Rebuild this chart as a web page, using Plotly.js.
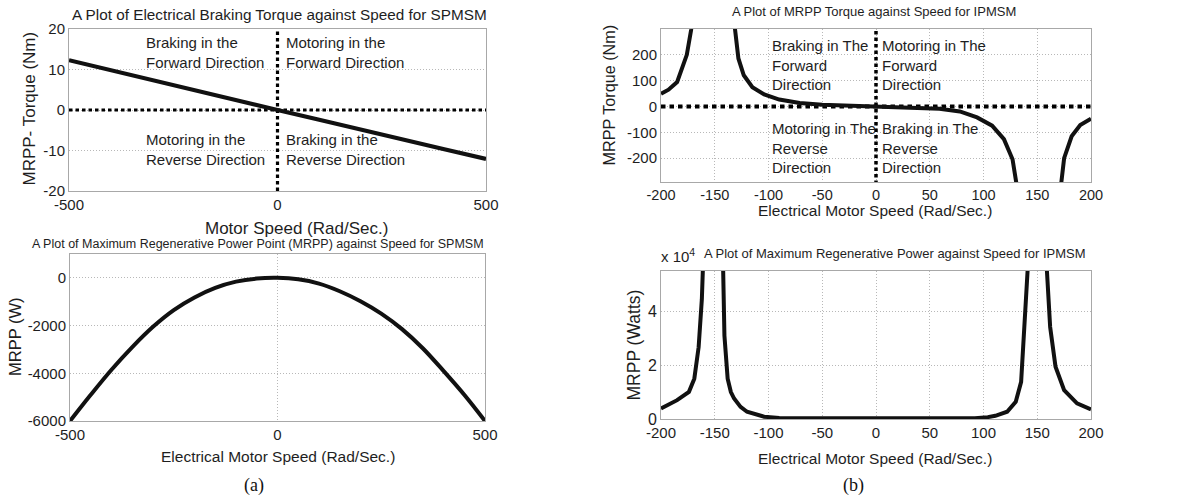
<!DOCTYPE html>
<html>
<head>
<meta charset="utf-8">
<script src="https://cdn.plot.ly/plotly-3.0.1.min.js"></script>
<style>html,body{margin:0;padding:0;background:#fff;}#chart{width:1184px;height:502px;}</style>
</head>
<body>
<div id="chart"></div>
<script>
// ---- (a) top: SPMSM braking torque vs speed ----
const spmsmTorqueSpeed = [-500, -400, -300, -200, -100, 0, 100, 200, 300, 400, 500];
const spmsmTorque = [12.3, 9.8, 7.4, 4.9, 2.4, 0, -2.4, -4.9, -7.3, -9.7, -12.1];

// ---- (a) bottom: SPMSM MRPP vs speed ----
const spmsmPowerSpeed = [-500, -450, -400, -350, -300, -250, -200, -150, -100, -50, 0, 50, 100, 150, 200, 250, 300, 350, 400, 450, 500];
const spmsmPower = [-6000, -4900, -3850, -2900, -2050, -1350, -820, -420, -160, -30, 0, -60, -240, -560, -980, -1500, -2150, -2950, -3900, -4900, -6000];

// ---- (b) top: IPMSM MRPP torque vs speed ----
const ipmsmTorqueSpeed = [-200, -193, -185, -180, -176, -172, -170, -168, -134, -132, -128, -123, -115, -104, -90, -71, -50, -32, 0, 32, 59, 78, 94, 108, 119, 127, 131, 133, 135, 168, 170, 172, 175, 182, 190, 200];
const ipmsmTorque = [49, 65, 95, 150, 200, 296, 380, 460, 460, 330, 186, 121, 75, 47, 27, 14, 7, 4, 0, -3, -9, -19, -42, -74, -126, -204, -288, -360, -460, -460, -380, -296, -200, -115, -72, -47];

// ---- (b) bottom: IPMSM maximum regenerative power vs speed ----
const ipmsmPowerSpeed = [-200, -193, -185, -178, -174, -169, -165, -162, -160.5, -142.5, -141, -138, -135, -132, -126, -120, -110, -104, -90, -5, 0, 5, 92, 104, 111, 122, 130, 135, 138, 141, 142, 158, 159, 162, 167, 175, 187, 200];
const ipmsmPower = [3900, 5200, 7000, 9000, 10100, 15000, 26700, 44500, 62000, 62000, 31000, 15000, 10000, 7600, 4500, 2700, 1400, 860, 400, 300, 100, 300, 300, 700, 1200, 2700, 6400, 13800, 32000, 55000, 62000, 62000, 55000, 34200, 19400, 10700, 5800, 3600];

// tick values / labels
const spmsmSpeedTicks = [-500, 0, 500];
const spmsmTorqueTicks = [-20, -10, 0, 10, 20];
const spmsmPowerTicks = [-6000, -4000, -2000, 0];
const ipmsmSpeedTicks = [-200, -150, -100, -50, 0, 50, 100, 150, 200];
const ipmsmTorqueTicks = [-200, -100, 0, 100, 200];
const ipmsmPowerTicks = [0, 20000, 40000];
const ipmsmPowerTickText = ['0', '2', '4'];

// reference lines (quadrant dividers)
const tlZeroX = [-500, 500], tlZeroY = [0, 0];
const tlVertX = [0, 0], tlVertY = [-20, 20];
const trZeroX = [-200, 200], trZeroY = [0, 0];
const trVertX = [0, 0], trVertY = [-300, 300];

const W = 1184, H = 502;
const px = v => v / W, py = v => 1 - v / H;
const FONT = '"Liberation Sans", Arial, sans-serif';
const TXT = '#1e1e1e';
const GRID = '#b8b8b8';
const BOX = '#a8a8a8';

const curve = {color: '#111111', width: 4.2};
const dotted = (w, d) => ({color: '#000000', width: w, dash: d});

const traces = [
  {x: tlZeroX, y: tlZeroY, xaxis: 'x', yaxis: 'y', mode: 'lines', line: dotted(3.2, '3.5px,3px'), hoverinfo: 'skip'},
  {x: tlVertX, y: tlVertY, xaxis: 'x', yaxis: 'y', mode: 'lines', line: dotted(3.2, '3.5px,3px'), hoverinfo: 'skip'},
  {x: spmsmTorqueSpeed, y: spmsmTorque, xaxis: 'x', yaxis: 'y', mode: 'lines', line: curve},
  {x: spmsmPowerSpeed, y: spmsmPower, xaxis: 'x3', yaxis: 'y3', mode: 'lines', line: {color: '#111111', width: 4, shape: 'spline'}},
  {x: trZeroX, y: trZeroY, xaxis: 'x2', yaxis: 'y2', mode: 'lines', line: dotted(4, '4.5px,4px'), hoverinfo: 'skip'},
  {x: trVertX, y: trVertY, xaxis: 'x2', yaxis: 'y2', mode: 'lines', line: dotted(3.5, '3.5px,3px'), hoverinfo: 'skip'},
  {x: ipmsmTorqueSpeed, y: ipmsmTorque, xaxis: 'x2', yaxis: 'y2', mode: 'lines', line: {color: '#111111', width: 4}},
  {x: ipmsmPowerSpeed, y: ipmsmPower, xaxis: 'x4', yaxis: 'y4', mode: 'lines', line: {color: '#111111', width: 4}}
];

const baseAxis = {
  showline: true, mirror: true, linecolor: BOX, linewidth: 1,
  ticks: '', zeroline: false, showgrid: true, gridcolor: GRID, griddash: '1px,2px', gridwidth: 1,
  tickfont: {family: FONT, size: 15, color: TXT}, fixedrange: true
};
const ax = (extra, vals, text, size) => Object.assign({}, baseAxis, {
  tickmode: 'array', tickvals: vals, ticktext: text || vals.map(v => String(v)),
  tickfont: {family: FONT, size: size || 15, color: TXT}
}, extra);

const layout = {
  width: W, height: H,
  margin: {l: 0, r: 0, t: 0, b: 0},
  paper_bgcolor: '#ffffff', plot_bgcolor: '#ffffff',
  showlegend: false,
  font: {family: FONT, color: TXT},
  xaxis: ax({domain: [px(69), px(486)], anchor: 'y', range: [-500, 500], showgrid: false}, spmsmSpeedTicks),
  yaxis: ax({domain: [py(191), py(29)], anchor: 'x', range: [-20, 20]}, spmsmTorqueTicks),
  xaxis2: ax({domain: [px(661), px(1091)], anchor: 'y2', range: [-200, 200]}, ipmsmSpeedTicks, null, 14.5),
  yaxis2: ax({domain: [py(182), py(29)], anchor: 'x2', range: [-292, 300]}, ipmsmTorqueTicks),
  xaxis3: ax({domain: [px(70), px(485)], anchor: 'y3', range: [-500, 500]}, spmsmSpeedTicks),
  yaxis3: ax({domain: [py(421), py(254)], anchor: 'x3', range: [-6000, 1000]}, spmsmPowerTicks),
  xaxis4: ax({domain: [px(661), px(1091)], anchor: 'y4', range: [-200, 200]}, ipmsmSpeedTicks),
  yaxis4: ax({domain: [py(419), py(271)], anchor: 'x4', range: [0, 55000]}, ipmsmPowerTicks, ipmsmPowerTickText, 16),
  annotations: []
};

function note(text, x, y, size, opts) {
  layout.annotations.push(Object.assign({
    text: text, xref: 'paper', yref: 'paper', x: px(x), y: py(y),
    xanchor: 'center', yanchor: 'middle', showarrow: false,
    font: {family: FONT, size: size, color: TXT}
  }, opts || {}));
}

// titles
note('A Plot of Electrical Braking Torque against Speed for SPMSM', 279, 15, 15.3);
note('A Plot of MRPP Torque against Speed for IPMSM', 874, 12, 13);
note('A Plot of Maximum Regenerative Power Point (MRPP) against Speed for SPMSM', 258, 243.5, 12.5);
note('A Plot of Maximum Regenerative Power against Speed for IPMSM', 895, 253.5, 13);
note('x 10<sup>4</sup>', 659, 255, 15, {xanchor: 'left'});

// axis labels
note('Motor Speed (Rad/Sec.)', 296, 228.5, 17);
note('MRPP- Torque (Nm)', 28.5, 109, 17, {textangle: -90});
note('Electrical Motor Speed (Rad/Sec.)', 875, 210, 15.5);
note('MRPP Torque (Nm)', 608.5, 95, 16.2, {textangle: -90});
note('Electrical Motor Speed (Rad/Sec.)', 277.5, 456.5, 15.5);
note('MRPP (W)', 15, 337, 16.5, {textangle: -90});
note('Electrical Motor Speed (Rad/Sec.)', 875, 458, 15.5);
note('MRPP (Watts)', 633.5, 345, 17.5, {textangle: -90});

// quadrant labels
const ql = {xanchor: 'left', align: 'left'};
note('Braking in the<br>Forward Direction', 144, 52, 15, ql);
note('Motoring in the<br>Forward Direction', 283.5, 52, 15, ql);
note('Motoring in the<br>Reverse Direction', 144, 149.5, 15, ql);
note('Braking in the<br>Reverse Direction', 283.5, 149.5, 15, ql);
note('Braking in The<br>Forward<br>Direction', 769.5, 65, 15, ql);
note('Motoring in The<br>Forward<br>Direction', 880, 65, 15, ql);
note('Motoring in The<br>Reverse<br>Direction', 769.5, 148, 15, ql);
note('Braking in The<br>Reverse<br>Direction', 880, 148, 15, ql);

// panel labels
const serif = {font: {family: '"Liberation Serif", "Times New Roman", serif', size: 18, color: '#111111'}};
note('(a)', 254, 485, 18, serif);
note('(b)', 853, 485, 18, serif);

Plotly.newPlot('chart', traces, layout, {staticPlot: true, displayModeBar: false});
</script>
</body>
</html>
